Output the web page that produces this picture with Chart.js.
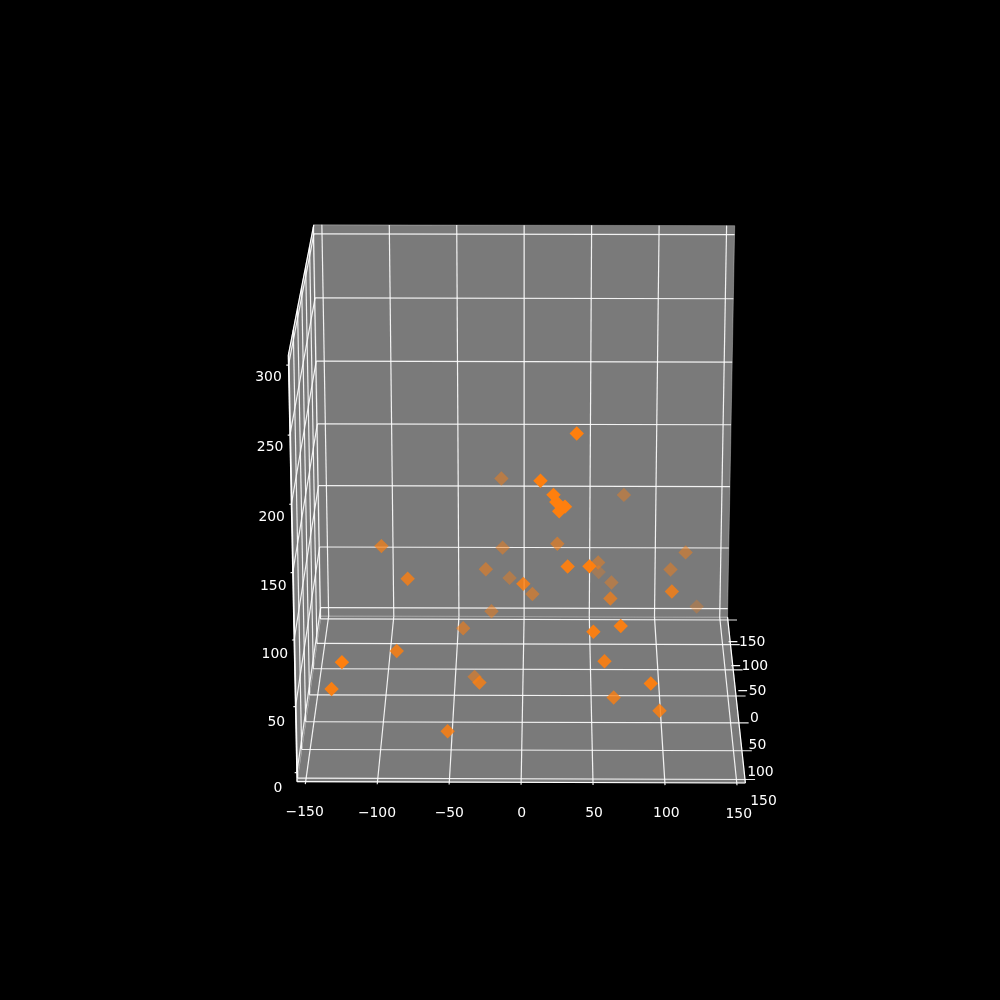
<!DOCTYPE html>
<html>
<head>
<meta charset="utf-8">
<style>html,body{margin:0;background:#000}canvas{display:block}</style>
<script src="https://cdn.jsdelivr.net/npm/chart.js@4/dist/chart.umd.min.js"></script>
</head>
<body>
<canvas id="myChart" width="1000" height="1000"></canvas>
<script>
const xTicks = [-150, -100, -50, 0, 50, 100, 150];
const yTicks = [-150, -100, -50, 0, 50, 100, 150];
const zTicks = [0, 50, 100, 150, 200, 250, 300];
const xLim = [-156, 156];
const yLim = [-156, 156];
const zLim = [-7, 307];

const pointX = [38, -16, 13, 74, 22, 24, 30, 26, -101, -15, 25, 119, 55, 32, 47, 56, -27, 108, -10, -81,
    1, 65, 7, 106, 63, 129, -23, -43, 50, 69, -88, -124, 58, -132, -35, -30, 90, 65, 97, -52];
const pointY = [91, -57, 102, -69, 106, 107, 108, 109, 23, -40, -9, -39, -36, 107, 122, -81, -19, -35, -48, 62,
    79, -47, -13, 65, 36, -72, -24, 12, 122, 121, 95, 145, 113, 136, 8, 88, 134, 91, 110, 115];
const pointZ = [229, 142, 198, 125, 189, 184, 181, 178, 119, 94, 109, 91, 84, 136, 142, 59, 85, 79, 67, 109,
    112, 64, 68, 101, 84, 35, 50, 51, 93, 97, 67, 79, 67, 55, 11, 40, 59, 30, 28, 14];

// camera of the 3d view, the page only has a 2d scale so we project ourselves
const elev = 20 * Math.PI / 180;
const azimOff = 0.4 * Math.PI / 180;
const halfBox = 0.528, dist = 10, focal = 4112, cx = 522.7, cy = 495;
const s = Math.sin(elev), c = Math.cos(elev), sd = Math.sin(azimOff), cd = Math.cos(azimOff);

function project(x, y, z) {
    const X = x / xLim[1] * halfBox;
    const Y = -y / yLim[1] * halfBox;
    const Z = (z - (zLim[0] + zLim[1]) / 2) / ((zLim[1] - zLim[0]) / 2) * halfBox;
    const u = X * cd + Y * sd;
    const Yr = -X * sd + Y * cd;
    const v = Yr * s + Z * c;
    const dep = dist + Yr * c - Z * s;
    return { x: cx + focal * u / dep, y: cy - focal * v / dep, dep };
}

const datasets = [];

function addLine(a, b, color) {
    datasets.push({
        data: [project(...a), project(...b)],
        showLine: true,
        pointRadius: 0,
        borderColor: color,
        borderWidth: 1.2,
        order: 1
    });
}

function addPane(corners) {
    const d = corners.map(p => project(...p));
    d.push(d[0]);
    datasets.push({
        data: d,
        showLine: true,
        pointRadius: 0,
        fill: 'shape',
        backgroundColor: 'rgb(122,122,122)',
        borderColor: 'rgba(255,255,255,0.3)',
        borderWidth: 1,
        order: 2
    });
}

const [x0, x1] = xLim, [y0, y1] = yLim, [z0, z1] = zLim;
addPane([[x0, y0, z0], [x1, y0, z0], [x1, y0, z1], [x0, y0, z1]]);
addPane([[x0, y0, z0], [x0, y1, z0], [x0, y1, z1], [x0, y0, z1]]);
addPane([[x0, y0, z0], [x1, y0, z0], [x1, y1, z0], [x0, y1, z0]]);

const gridColor = 'rgba(255,255,255,0.9)';
for (const x of xTicks) {
    addLine([x, y0, z1], [x, y0, z0], gridColor);
    addLine([x, y0, z0], [x, y1 + 4, z0], gridColor);
}
for (const y of yTicks) {
    addLine([x1 + 7, y, z0], [x0, y, z0], gridColor);
    addLine([x0, y, z0], [x0, y, z1], gridColor);
}
for (const z of zTicks) {
    addLine([x1, y0, z], [x0, y0, z], gridColor);
    addLine([x0, y0, z], [x0, y1, z], gridColor);
    addLine([x0, y1, z], [x0 - 1.5, y1, z], gridColor);
}
addLine([x0, y1, z0], [x1, y1, z0], '#fff');
addLine([x1, y1, z0], [x1, y0, z0], '#fff');
addLine([x0, y1, z0], [x0, y1, z1], '#fff');
addLine([x0, y0, z1], [x0, y1, z1], '#fff');

// far points first and fainter, near points end up on top
const projected = pointX.map((x, i) => project(x, pointY[i], pointZ[i]));
projected.sort((p, q) => q.dep - p.dep);
const depMax = projected[0].dep;
const depMin = projected[projected.length - 1].dep;
datasets.push({
    data: projected,
    pointStyle: 'rectRot',
    pointRadius: 7.2,
    pointBorderWidth: 0,
    pointBackgroundColor: projected.map(p => `rgba(255,127,14,${1 - 0.7 * (p.dep - depMin) / (depMax - depMin)})`),
    order: 0
});

const tickText = {
    id: 'tickText',
    afterDatasetsDraw(chart) {
        const { ctx, scales } = chart;
        ctx.save();
        ctx.fillStyle = '#fff';
        ctx.font = "13.9px 'DejaVu Sans'";
        ctx.textAlign = 'center';
        ctx.textBaseline = 'middle';
        const put = (t, p, dx, dy) => ctx.fillText(
            String(t).replace('-', '\u2212'),
            scales.x.getPixelForValue(p.x) + dx,
            scales.y.getPixelForValue(p.y) + dy
        );
        xTicks.forEach(t => put(t, project(t, y1, z0), 0.5 + t / 100, 31));
        yTicks.forEach(t => put(t, project(x1, t, z0), 18.5, 22));
        zTicks.forEach(t => put(t, project(x0, y1, t), -20 + (300 - t) / 300, 12 + 4 * (300 - t) / 300));
        ctx.restore();
    }
};

new Chart(document.getElementById('myChart'), {
    type: 'scatter',
    data: { datasets },
    plugins: [tickText],
    options: {
        responsive: false,
        animation: false,
        layout: { padding: 0, autoPadding: false },
        plugins: { legend: { display: false }, tooltip: { enabled: false } },
        scales: {
            x: { type: 'linear', min: 0, max: 1000, display: false },
            y: { type: 'linear', min: 0, max: 1000, reverse: true, display: false }
        }
    }
});
</script>
</body>
</html>
